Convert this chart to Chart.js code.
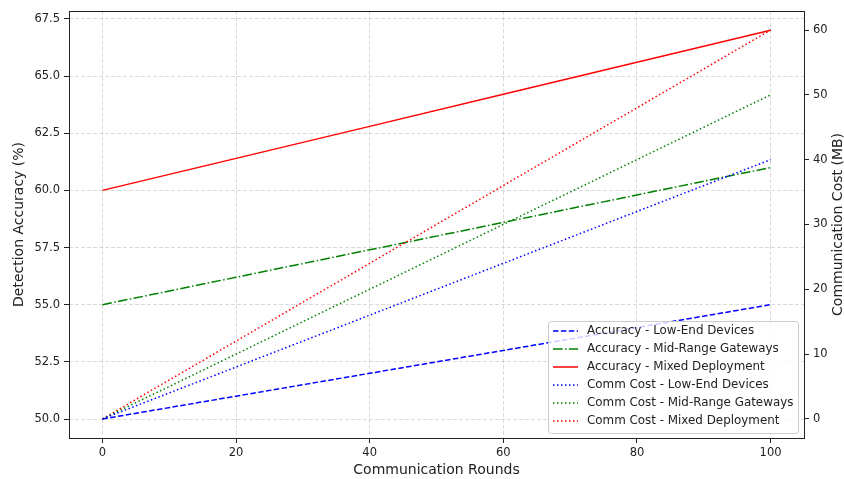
<!DOCTYPE html>
<html>
<head>
<meta charset="utf-8">
<script src="https://cdn.jsdelivr.net/npm/chart.js@4/dist/chart.umd.min.js"></script>
<style>
  html, body { margin: 0; padding: 0; background: #ffffff; }
  #wrap { width: 844px; height: 479px; position: relative; }
</style>
</head>
<body>
<div id="wrap"><canvas id="c" width="844" height="479"></canvas></div>
<script>
// Communication rounds sampled along the x axis
const rounds = [0, 20, 40, 60, 80, 100];

// Detection accuracy (%) per deployment
const accLowEnd   = [50.0, 51.0, 52.0, 53.0, 54.0, 55.0];
const accMidRange = [55.0, 56.2, 57.4, 58.6, 59.8, 61.0];
const accMixed    = [60.0, 61.4, 62.8, 64.2, 65.6, 67.0];

// Communication cost (MB) per deployment
const costLowEnd   = [0, 8, 16, 24, 32, 40];
const costMidRange = [0, 10, 20, 30, 40, 50];
const costMixed    = [0, 12, 24, 36, 48, 60];

const seriesLabels = [
  'Accuracy - Low-End Devices',
  'Accuracy - Mid-Range Gateways',
  'Accuracy - Mixed Deployment',
  'Comm Cost - Low-End Devices',
  'Comm Cost - Mid-Range Gateways',
  'Comm Cost - Mixed Deployment'
];

const xTitle = 'Communication Rounds';
const yLeftTitle = 'Detection Accuracy (%)';
const yRightTitle = 'Communication Cost (MB)';

const FONT = "'DejaVu Sans', 'Liberation Sans', sans-serif";
const DASHED = [5.5, 2.4];
const DASHDOT = [9.6, 2.4, 1.5, 2.4];
const DOTTED = [1.5, 2.5];
const GRID_DASH = [4, 2];
const GRID_COLOR = 'rgba(176,176,176,0.6)';

function pts(ys) { return rounds.map((x, i) => ({ x: x, y: ys[i] })); }

function ds(label, values, color, dash, axis, order) {
  return {
    label: label,
    data: pts(values),
    borderColor: color,
    backgroundColor: color,
    borderWidth: 1.5,
    borderDash: dash,
    pointRadius: 0,
    tension: 0,
    fill: false,
    yAxisID: axis,
    order: order
  };
}

const datasets = [
  ds(seriesLabels[0], accLowEnd,   '#0000ff', DASHED,  'y', 1),
  ds(seriesLabels[1], accMidRange, '#008000', DASHDOT, 'y', 1),
  ds(seriesLabels[2], accMixed,    '#ff0000', [],      'y', 1),
  ds(seriesLabels[3], costLowEnd,   '#0000ff', DOTTED, 'y1', 0),
  ds(seriesLabels[4], costMidRange, '#008000', DOTTED, 'y1', 0),
  ds(seriesLabels[5], costMixed,    '#ff0000', DOTTED, 'y1', 0)
];

// Frame, rotated right-axis title and in-plot legend
const decorations = {
  id: 'decorations',
  afterDraw(chart) {
    const ctx = chart.ctx;
    const a = chart.chartArea;
    ctx.save();
    ctx.strokeStyle = '#222222';
    ctx.lineWidth = 1;
    ctx.setLineDash([]);
    ctx.strokeRect(Math.round(a.left) + 0.5, Math.round(a.top) + 0.5,
                   Math.round(a.right - a.left), Math.round(a.bottom - a.top));

    // right axis title, reading bottom-to-top
    ctx.save();
    ctx.translate(838, (a.top + a.bottom) / 2);
    ctx.rotate(-Math.PI / 2);
    ctx.fillStyle = '#222222';
    ctx.font = '14px ' + FONT;
    ctx.textAlign = 'center';
    ctx.textBaseline = 'middle';
    ctx.fillText(yRightTitle, 0, 0);
    ctx.restore();

    // legend box
    const bx = 548.5, by = 321.5, bw = 250, bh = 112, r = 3;
    ctx.beginPath();
    ctx.moveTo(bx + r, by);
    ctx.lineTo(bx + bw - r, by);
    ctx.quadraticCurveTo(bx + bw, by, bx + bw, by + r);
    ctx.lineTo(bx + bw, by + bh - r);
    ctx.quadraticCurveTo(bx + bw, by + bh, bx + bw - r, by + bh);
    ctx.lineTo(bx + r, by + bh);
    ctx.quadraticCurveTo(bx, by + bh, bx, by + bh - r);
    ctx.lineTo(bx, by + r);
    ctx.quadraticCurveTo(bx, by, bx + r, by);
    ctx.closePath();
    ctx.fillStyle = 'rgba(255,255,255,0.8)';
    ctx.fill();
    ctx.strokeStyle = '#cccccc';
    ctx.lineWidth = 1;
    ctx.stroke();

    ctx.font = '11.9px ' + FONT;
    ctx.textAlign = 'left';
    ctx.textBaseline = 'middle';
    chart.data.datasets.forEach((d, i) => {
      const y = 331 + i * 18;
      ctx.beginPath();
      ctx.setLineDash(d.borderDash);
      ctx.strokeStyle = d.borderColor;
      ctx.lineWidth = 1.5;
      ctx.moveTo(553, y);
      ctx.lineTo(578, y);
      ctx.stroke();
      ctx.setLineDash([]);
      ctx.fillStyle = '#222222';
      ctx.fillText(d.label, 587, y);
    });
    ctx.restore();
  }
};

const tickFont = { family: FONT, size: 11.5 };
const titleFont = { family: FONT, size: 14, lineHeight: 1.2 };

new Chart(document.getElementById('c'), {
  type: 'line',
  data: { datasets: datasets },
  plugins: [decorations],
  options: {
    responsive: false,
    animation: false,
    layout: { padding: { top: 10, right: 0, bottom: 0, left: 0 } },
    plugins: { legend: { display: false }, tooltip: { enabled: false } },
    scales: {
      x: {
        type: 'linear',
        min: -5, max: 105,
        afterFit(s) { s.height = 41; },
        border: { display: false, dash: GRID_DASH },
        grid: {
          color: GRID_COLOR,
          lineWidth: 0.8,
          tickColor: '#222222',
          tickBorderDash: [],
          tickWidth: 1,
          tickLength: 5
        },
        ticks: {
          stepSize: 20, includeBounds: false, padding: 3,
          color: '#222222', font: tickFont, maxRotation: 0
        },
        title: { display: true, text: xTitle, color: '#222222', font: titleFont, padding: { top: 0, bottom: 0 } }
      },
      y: {
        type: 'linear',
        position: 'left',
        min: 49.17, max: 67.85,
        afterFit(s) { s.width = 69; },
        border: { display: false, dash: GRID_DASH },
        grid: {
          color: GRID_COLOR,
          lineWidth: 0.8,
          tickColor: '#222222',
          tickBorderDash: [],
          tickWidth: 1,
          tickLength: 5
        },
        ticks: {
          stepSize: 2.5, includeBounds: false, padding: 4,
          color: '#222222', font: tickFont,
          callback: (v) => v.toFixed(1)
        },
        title: { display: true, text: yLeftTitle, color: '#222222', font: titleFont, padding: { top: 11, bottom: 0 } }
      },
      y1: {
        type: 'linear',
        position: 'right',
        min: -2.95, max: 62.95,
        afterFit(s) { s.width = 40; },
        border: { display: false },
        grid: {
          drawOnChartArea: false,
          tickColor: '#222222',
          tickBorderDash: [],
          tickWidth: 1,
          tickLength: 5
        },
        ticks: {
          stepSize: 10, includeBounds: false, padding: 4,
          color: '#222222', font: tickFont
        },
        title: { display: false }
      }
    }
  }
});
</script>
</body>
</html>
